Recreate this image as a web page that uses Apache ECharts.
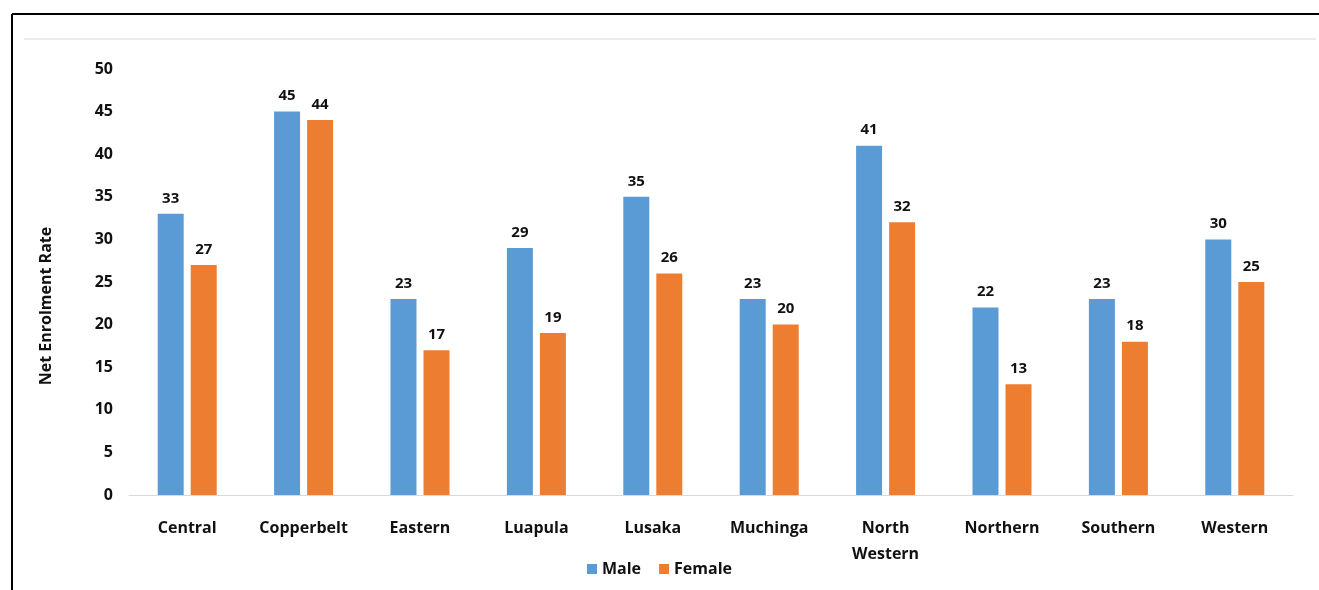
<!DOCTYPE html>
<html><head><meta charset="utf-8">
<script src="https://cdn.jsdelivr.net/npm/echarts@6/dist/echarts.min.js"></script>
<style>html,body{margin:0;padding:0;background:#fff}#c{width:1319px;height:590px}</style>
</head><body><div id="c"></div>
<script>
const categories = ['Central','Copperbelt','Eastern','Luapula','Lusaka','Muchinga','North\nWestern','Northern','Southern','Western'];
const maleValues = [33,45,23,29,35,23,41,22,23,30];
const femaleValues = [27,44,17,19,26,20,32,13,18,25];
const yTicks = {min:0,max:50,interval:5};
const FONT = 'Open Sans';
const chart = echarts.init(document.getElementById('c'));
const lbl = {show:true,position:'top',distance:8,color:'#111',fontFamily:FONT,fontWeight:'bold',fontSize:15};
chart.setOption({
  animation:false,
  textStyle:{fontFamily:FONT},
  graphic:[
    {type:'line',shape:{x1:12,y1:14,x2:1319,y2:14},style:{stroke:'#000',lineWidth:2}},
    {type:'line',shape:{x1:12,y1:14,x2:12,y2:590},style:{stroke:'#000',lineWidth:2}},
    {type:'line',shape:{x1:24,y1:39,x2:1316,y2:39},style:{stroke:'#ebebeb',lineWidth:2}}
  ],
  grid:{left:129,right:26,top:69,bottom:95},
  legend:{data:['Male','Female'],bottom:8,left:'center',itemWidth:10,itemHeight:10,itemGap:18,icon:'rect',
    textStyle:{fontFamily:FONT,fontWeight:'bold',fontSize:16,color:'#111'}},
  xAxis:{type:'category',data:categories,
    axisLine:{lineStyle:{color:'#d9d9d9',width:1}},axisTick:{show:false},
    axisLabel:{color:'#111',fontFamily:FONT,fontWeight:'bold',fontSize:16,margin:20,lineHeight:26}},
  yAxis:{type:'value',min:yTicks.min,max:yTicks.max,interval:yTicks.interval,
    name:'Net Enrolment Rate',nameLocation:'middle',nameGap:75,nameRotate:90,
    nameTextStyle:{color:'#111',fontFamily:FONT,fontWeight:'bold',fontSize:16,padding:[0,48,0,0]},
    splitLine:{show:false},axisLine:{show:false},axisTick:{show:false},
    axisLabel:{color:'#111',fontFamily:FONT,fontWeight:'bold',fontSize:16,margin:16}},
  series:[
    {name:'Male',type:'bar',data:maleValues,barWidth:26,barGap:'27%',itemStyle:{color:'#5B9BD5'},label:lbl},
    {name:'Female',type:'bar',data:femaleValues,barWidth:26,itemStyle:{color:'#ED7D31'},label:lbl}
  ]
});
</script></body></html>
